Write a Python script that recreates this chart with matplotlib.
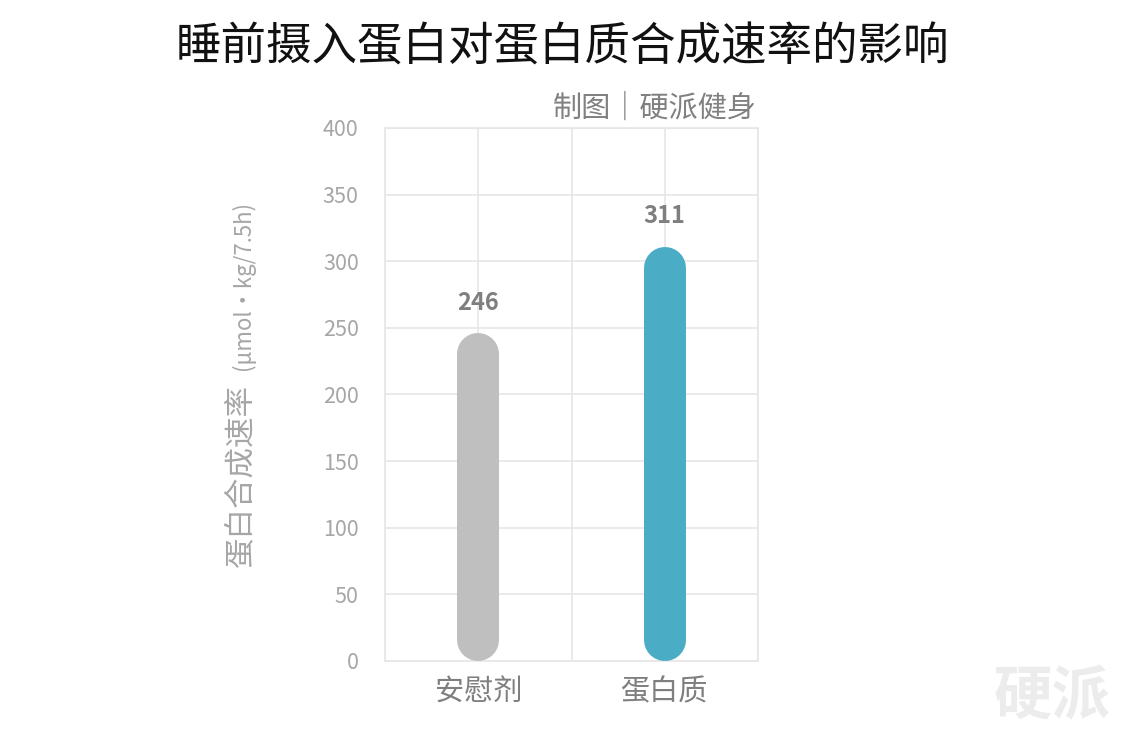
import matplotlib
matplotlib.use('Agg')
import matplotlib.pyplot as plt

plt.rcParams['font.family'] = ['Noto Sans CJK SC', 'DejaVu Sans']

# 数据
categories = ['安慰剂', '蛋白质']
values = [246, 311]
colors = ['#bfbfbf', '#4bacc6']
yticks = [0, 50, 100, 150, 200, 250, 300, 350, 400]

fig = plt.figure(figsize=(11.25, 7.41), dpi=100)
fig.patch.set_facecolor('white')
ax = fig.add_axes([0.3422, 0.108, 0.3316, 0.7193])

ax.set_xlim(-0.5, 1.5)
ax.set_ylim(0, 400)

# 圆头柱子：粗线 + 圆端帽
bar_px = 42
lw_pt = bar_px * 72 / fig.dpi
px_per_unit = ax.get_position().height * fig.get_figheight() * fig.dpi / 400
cap = bar_px / 2 / px_per_unit
for i, (v, c) in enumerate(zip(values, colors)):
    ax.plot([i, i], [cap, v - cap], color=c, lw=lw_pt, solid_capstyle='round', zorder=3)
    ax.text(i, v + 14, str(v), ha='center', va='bottom', fontsize=17,
            color='#7f7f7f', fontweight='bold', zorder=4)

ax.set_yticks(yticks)
ax.set_yticklabels([str(t) for t in yticks], fontsize=15.5, color='#a6a6a6',
                   fontweight='light')
ax.set_xticks([-0.5, 0, 0.5, 1, 1.5], minor=False)
ax.set_xticklabels(['', categories[0], '', categories[1], ''], fontsize=21,
                   color='#7f7f7f', fontweight='light')
ax.tick_params(axis='both', length=0)
ax.tick_params(axis='y', pad=19)
ax.tick_params(axis='x', pad=12)
ax.grid(True, color='#e6e6e6', lw=1.2, zorder=0)
for s in ax.spines.values():
    s.set_color('#e6e6e6')
    s.set_linewidth(1.2)

# 标题
fig.text(0.500, 0.936, '睡前摄入蛋白对蛋白质合成速率的影响', ha='center', va='center',
         fontsize=32.8, color='#111111')
fig.text(0.673, 0.853, '制图｜硬派健身', ha='right', va='center', fontsize=21,
         color='#808080', fontweight='light')

# Y轴标题
fig.text(0.214, 0.235, '蛋白合成速率', rotation=90, ha='center', va='bottom',
         fontsize=22, color='#a6a6a6', fontweight='light')
fig.text(0.216, 0.500, '(μmol·kg/7.5h)', rotation=90, ha='center', va='bottom',
         fontsize=16, color='#a6a6a6', fontweight='light')

# 水印
fig.text(0.935, 0.06, '硬派', ha='center', va='center', fontsize=42,
         color='#ececec', fontweight='bold', style='italic')

fig.savefig('out.png', dpi=100, facecolor='white')
